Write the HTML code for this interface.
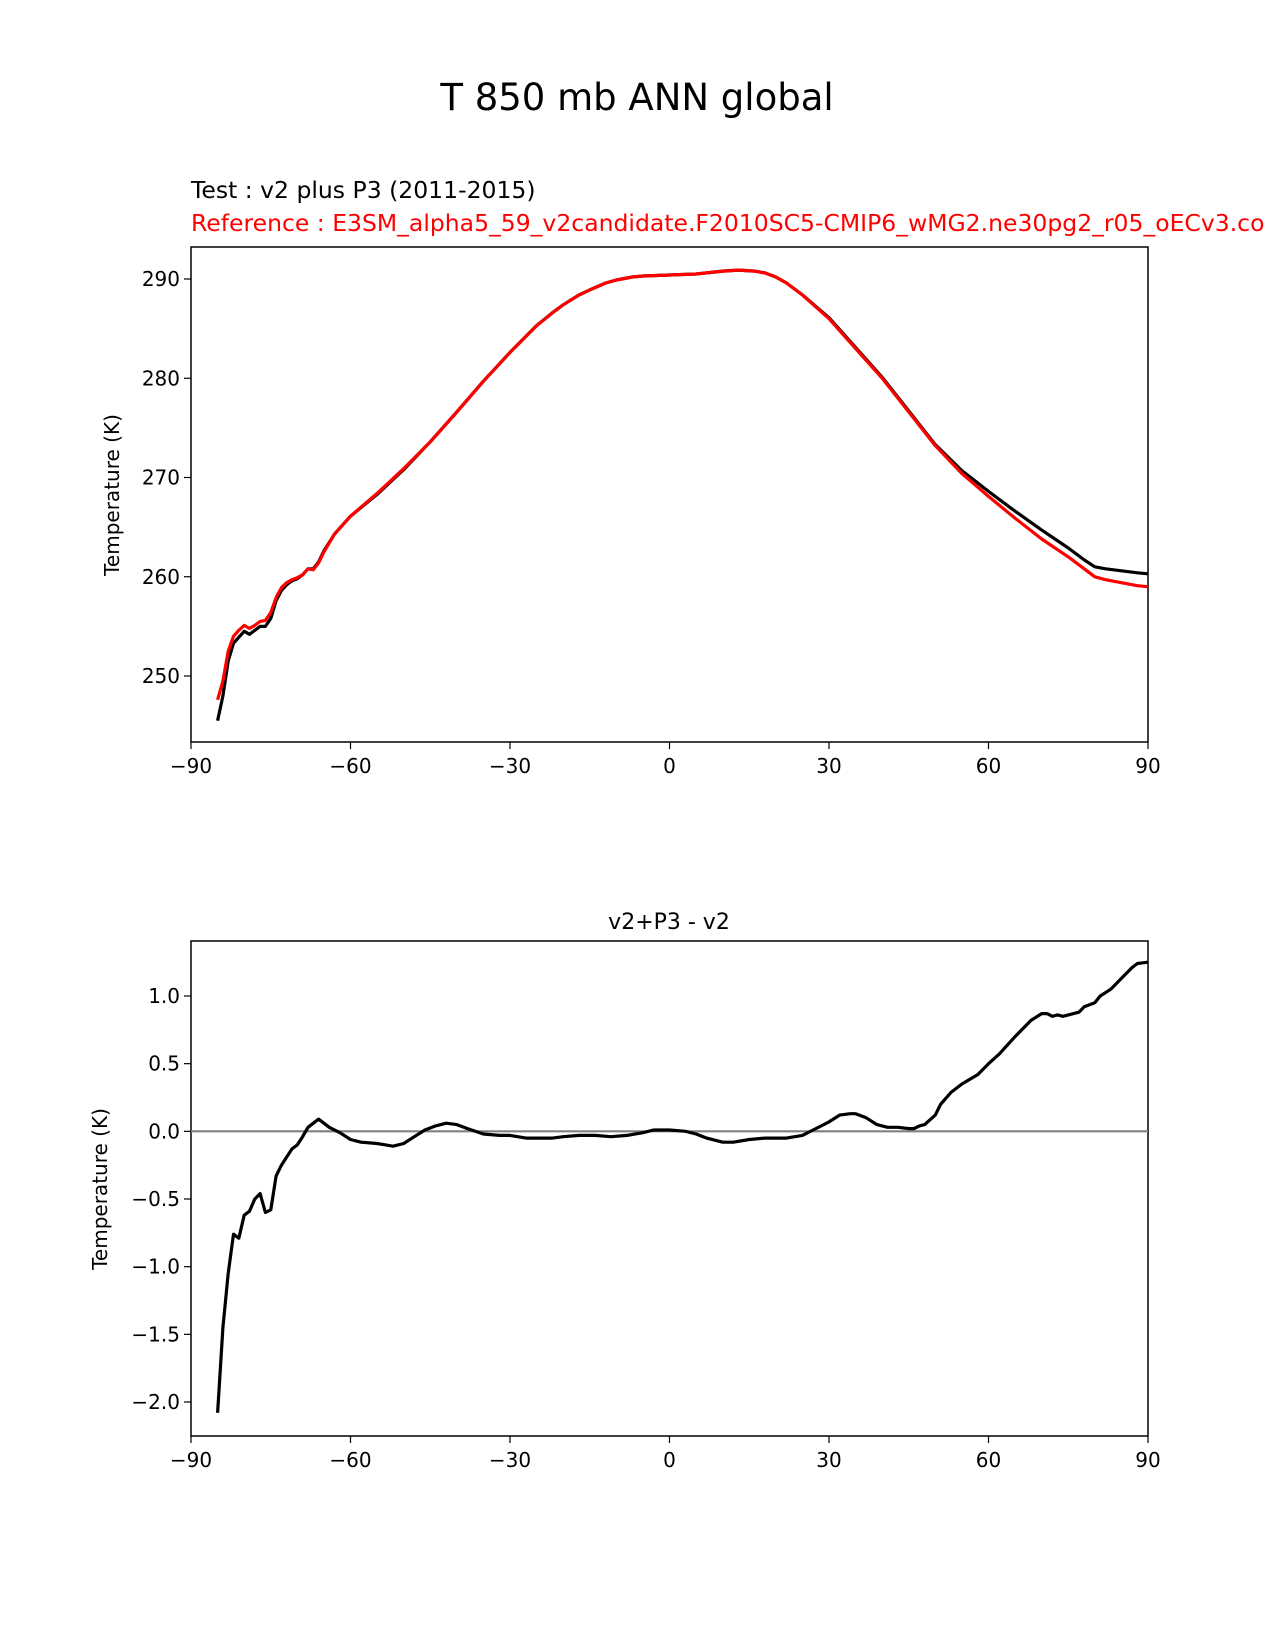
<!DOCTYPE html>
<html><head><meta charset="utf-8"><style>
body{margin:0;background:#fff;}
svg{display:block;font-family:"DejaVu Sans","Liberation Sans",sans-serif;}
</style></head><body>
<svg id="fig" width="1275" height="1650" viewBox="0 0 1275 1650">
<text x="637" y="110" font-size="37" text-anchor="middle">T 850 mb ANN global</text>
<text x="191" y="198" font-size="23.5">Test : v2 plus P3 (2011-2015)</text>
<text x="191" y="231" font-size="23.5" fill="#ff0000">Reference : E3SM_alpha5_59_v2candidate.F2010SC5-CMIP6_wMG2.ne30pg2_r05_oECv3.co</text>
<text x="669" y="929" font-size="22" text-anchor="middle">v2+P3 - v2</text>
<text transform="translate(119,495) rotate(-90)" font-size="20" text-anchor="middle">Temperature (K)</text>
<text transform="translate(107,1189) rotate(-90)" font-size="20" text-anchor="middle">Temperature (K)</text>
<g id="top"></g>
<g id="bot"></g>
</svg>
<script>
const topLats=[-85,-84,-83,-82,-81,-80,-79,-78,-77,-76,-75,-74,-73,-72,-71,-70,-69,-68,-67,-66,-65,-63,-60,-55,-50,-45,-40,-35,-30,-25,-22,-20,-17,-15,-12,-10,-7,-5,0,5,10,13,16,18,20,22,25,30,35,40,45,50,55,60,65,70,75,78,80,82,85,88,90];
const testT=[245.5,248,251.5,253.3,253.9,254.5,254.2,254.6,255,255,255.8,257.6,258.6,259.2,259.6,259.8,260.2,260.8,260.8,261.5,262.6,264.3,266.1,268.3,270.8,273.6,276.6,279.7,282.6,285.3,286.6,287.4,288.4,288.9,289.6,289.9,290.2,290.3,290.4,290.5,290.8,290.9,290.8,290.6,290.2,289.6,288.4,286.1,283.1,280.1,276.7,273.3,270.7,268.6,266.6,264.7,262.9,261.7,261.0,260.8,260.6,260.4,260.3];
const refT=[247.6,249.5,252.5,254.0,254.6,255.1,254.8,255.1,255.5,255.6,256.4,257.9,258.9,259.4,259.7,259.9,260.2,260.8,260.7,261.4,262.5,264.3,266.1,268.4,270.9,273.6,276.6,279.7,282.6,285.3,286.6,287.4,288.4,288.9,289.6,289.9,290.2,290.3,290.4,290.5,290.8,290.9,290.8,290.6,290.2,289.6,288.4,286.0,283.0,280.0,276.6,273.2,270.4,268.1,265.9,263.8,262.0,260.8,260.0,259.7,259.4,259.1,259.0];
const topTicks=[250,260,270,280,290];
const diffLats=[-85,-84,-83,-82,-81,-80,-79,-78,-77,-76,-75,-74,-73,-72,-71,-70,-69,-68,-67,-66,-65,-64,-62,-60,-58,-55,-52,-50,-48,-46,-44,-42,-40,-38,-35,-32,-30,-27,-25,-22,-20,-17,-14,-11,-8,-5,-3,0,3,5,7,10,12,15,18,22,25,27,30,32,34,35,37,39,41,43,45,46,47,48,50,51,53,55,58,60,62,65,68,70,71,72,73,74,75,77,78,80,81,83,85,87,88,90];
const diffVals=[-2.08,-1.45,-1.05,-0.76,-0.79,-0.62,-0.59,-0.5,-0.46,-0.6,-0.58,-0.33,-0.25,-0.19,-0.13,-0.1,-0.04,0.03,0.06,0.09,0.06,0.03,-0.01,-0.06,-0.08,-0.09,-0.11,-0.09,-0.04,0.01,0.04,0.06,0.05,0.02,-0.02,-0.03,-0.03,-0.05,-0.05,-0.05,-0.04,-0.03,-0.03,-0.04,-0.03,-0.01,0.01,0.01,0.0,-0.02,-0.05,-0.08,-0.08,-0.06,-0.05,-0.05,-0.03,0.01,0.07,0.12,0.13,0.13,0.1,0.05,0.03,0.03,0.02,0.02,0.04,0.05,0.12,0.2,0.29,0.35,0.42,0.5,0.57,0.7,0.82,0.87,0.87,0.85,0.86,0.85,0.86,0.88,0.92,0.95,1.0,1.05,1.13,1.21,1.24,1.25];
const botTicks=[-2.0,-1.5,-1.0,-0.5,0.0,0.5,1.0];
const xTicks=[-90,-60,-30,0,30,60,90];
const NS="http://www.w3.org/2000/svg";
function mk(p,tag,a){const e=document.createElementNS(NS,tag);for(const k in a)e.setAttribute(k,a[k]);p.appendChild(e);return e;}
const X0=191,X1=1148;
const xs=v=>X0+(v+90)/180*(X1-X0);
const yTop=v=>279+(290-v)*(676-279)/40;
const yBot=v=>996+(1.0-v)*(1402-996)/3;
function axes(g,top,bot,yf,yt,fmt,pre){
  const f=mk(g,'rect',{x:X0,y:top,width:X1-X0,height:bot-top,fill:'none',stroke:'#000','stroke-width':1.5});
  
  
  xTicks.forEach(t=>{const x=xs(t);
    const l=mk(g,'line',{x1:x,x2:x,y1:bot,y2:bot+7,stroke:'#000','stroke-width':1.2});
    
    
    const tx=mk(g,'text',{x:x,y:bot+31,'font-size':20,'text-anchor':'middle'});
    tx.textContent=(t<0?'\u2212'+(-t):''+t);
    
    });
  yt.forEach(t=>{const y=yf(t);
    const l=mk(g,'line',{x1:X0-7,x2:X0,y1:y,y2:y,stroke:'#000','stroke-width':1.2});
    
    
    const tx=mk(g,'text',{x:X0-11,y:y+7,'font-size':20,'text-anchor':'end'});
    tx.textContent=fmt(t);
    
    });
}
function line(g,xsArr,ysArr,yf,color,name,w){
  const d=xsArr.map((v,i)=>(i?'L':'M')+xs(v).toFixed(1)+','+yf(ysArr[i]).toFixed(1)).join('');
  const p=mk(g,'path',{d:d,fill:'none',stroke:color,'stroke-width':w||3.2,'stroke-linejoin':'round'});
  
  
}
const gt=document.getElementById('top'),gb=document.getElementById('bot');
axes(gt,247,742,yTop,topTicks,t=>''+t,'top');
line(gt,topLats,testT,yTop,'#000','test-line');
line(gt,topLats,refT,yTop,'#ff0000','reference-line');
axes(gb,941,1436,yBot,botTicks,t=>(t<0?'\u2212'+(-t).toFixed(1):t.toFixed(1)),'bottom');
const z=mk(gb,'line',{x1:X0,x2:X1,y1:yBot(0),y2:yBot(0),stroke:'#808080','stroke-width':2.2});


line(gb,diffLats,diffVals,yBot,'#000','difference-line');
</script>
</body></html>
